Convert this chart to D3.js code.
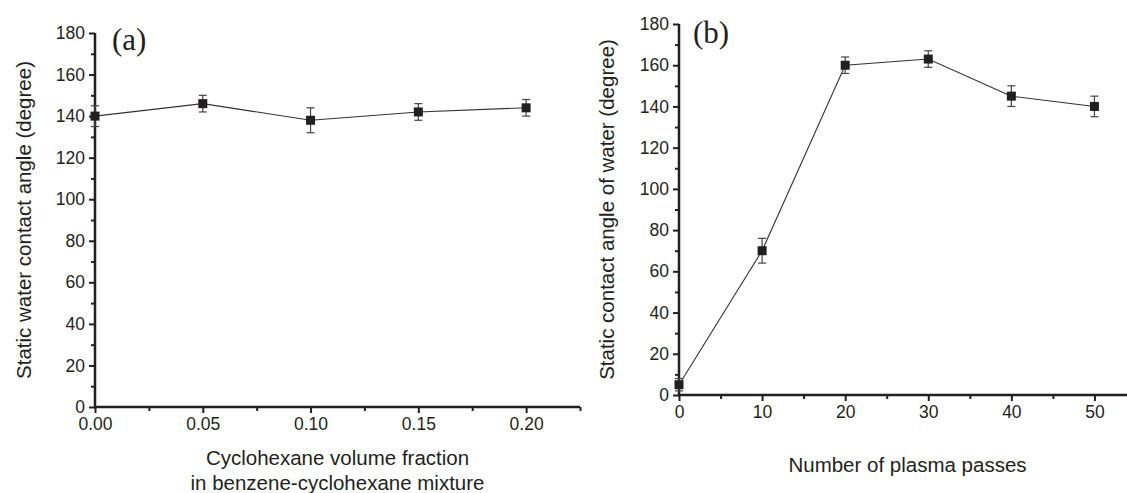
<!DOCTYPE html>
<html>
<head>
<meta charset="utf-8">
<script src="https://cdn.jsdelivr.net/npm/d3@7"></script>
<style>
  body { margin: 0; background: #fff; }
  svg { display: block; }
  text { fill: #231f20; }
</style>
</head>
<body>
<div id="chart"></div>
<script>
// panel (a): cyclohexane fraction
const fractionX = [0, 0.05, 0.1, 0.15, 0.2]
const waterAngle = [140, 146, 138, 142, 144]
const waterAngleErr = [5, 4, 6, 4, 4]
const fractionTicks = [0, 0.05, 0.1, 0.15, 0.2]
const fractionMinor = [0.025, 0.075, 0.125, 0.175, 0.225]

// panel (b): plasma passes
const passesX = [0, 10, 20, 30, 40, 50]
const passAngle = [5, 70, 160, 163, 145, 140]
const passAngleErr = [3, 6, 4, 4, 5, 5]
const passTicks = [0, 10, 20, 30, 40, 50]
const passMinor = [5, 15, 25, 35, 45, 55]

const angleTicks = [0, 20, 40, 60, 80, 100, 120, 140, 160, 180]
const angleMinor = [10, 30, 50, 70, 90, 110, 130, 150, 170]

let width = 1127
let height = 493

let svg = d3
  .select('#chart')
  .append('svg')
  .attr('width', width)
  .attr('height', height)
  .style('font-family', "'Liberation Sans', Arial, sans-serif")

let ink = '#231f20'

function drawPanel(p) {
  let x = d3.scaleLinear().domain(p.xDomain).range([p.left, p.right])
  let y = d3.scaleLinear().domain([0, 180]).range([p.bottom, p.top])

  let g = svg.append('g')

  // minor ticks
  g.append('g')
    .attr('transform', `translate(0, ${p.bottom})`)
    .call(d3.axisBottom(x).tickValues(p.xMinor).tickSize(4).tickFormat(''))
  g.append('g')
    .attr('transform', `translate(${p.left}, 0)`)
    .call(d3.axisLeft(y).tickValues(angleMinor).tickSize(4).tickFormat(''))

  // major ticks
  g.append('g')
    .attr('transform', `translate(0, ${p.bottom})`)
    .call(d3.axisBottom(x).tickValues(p.xTicks).tickSize(6).tickPadding(5).tickFormat(p.xFormat))
  g.append('g')
    .attr('transform', `translate(${p.left}, 0)`)
    .call(d3.axisLeft(y).tickValues(angleTicks).tickSize(6).tickPadding(4))

  g.selectAll('.domain').remove()
  g.selectAll('.tick line').attr('stroke', ink).attr('stroke-width', 2)
  g.selectAll('.tick text')
    .style('font-size', '17.5px')
    .style('font-family', "'Liberation Sans', Arial, sans-serif")
    .attr('fill', ink)

  // axis lines
  g.append('line')
    .attr('x1', p.left - 1)
    .attr('x2', x(p.xDomain[1]))
    .attr('y1', p.bottom)
    .attr('y2', p.bottom)
    .attr('stroke', ink)
    .attr('stroke-width', 2.5)
  g.append('line')
    .attr('x1', p.left)
    .attr('x2', p.left)
    .attr('y1', p.bottom + 1)
    .attr('y2', y(180))
    .attr('stroke', ink)
    .attr('stroke-width', 2.5)

  let pts = p.xs.map((d, i) => ({ x: d, y: p.ys[i], e: p.errs[i] }))

  // connecting line
  g.append('path')
    .datum(pts)
    .attr('d', d3.line().x(d => x(d.x)).y(d => y(d.y)))
    .attr('fill', 'none')
    .attr('stroke', '#333')
    .attr('stroke-width', 1.1)

  // error bars
  let eb = g.selectAll('.err').data(pts).enter().append('g').attr('class', 'err')
  eb.append('line')
    .attr('x1', d => x(d.x))
    .attr('x2', d => x(d.x))
    .attr('y1', d => y(d.y - d.e))
    .attr('y2', d => y(d.y + d.e))
    .attr('stroke', '#444')
    .attr('stroke-width', 1.2)
  eb.selectAll('.cap')
    .data(d => [d.y - d.e, d.y + d.e].map(v => ({ x: d.x, v: v })))
    .enter()
    .append('line')
    .attr('x1', d => x(d.x) - 4)
    .attr('x2', d => x(d.x) + 4)
    .attr('y1', d => y(d.v))
    .attr('y2', d => y(d.v))
    .attr('stroke', '#444')
    .attr('stroke-width', 1.2)

  // markers
  g.selectAll('.pt')
    .data(pts)
    .enter()
    .append('rect')
    .attr('x', d => x(d.x) - 4.5)
    .attr('y', d => y(d.y) - 4.5)
    .attr('width', 9)
    .attr('height', 9)
    .attr('fill', ink)

  // panel letter
  g.append('text')
    .attr('x', p.left + p.letterDx)
    .attr('y', y(180) + p.letterDy)
    .style('font-family', "'Liberation Serif', 'Times New Roman', serif")
    .style('font-size', '31px')
    .text(p.letter)

  // y title
  g.append('text')
    .attr('transform', `translate(${p.yTitleX}, ${(p.top + p.bottom) / 2}) rotate(-90)`)
    .attr('text-anchor', 'middle')
    .attr('dominant-baseline', 'central')
    .style('font-size', '20.5px')
    .text(p.yTitle)

  // x title
  p.xTitle.forEach((t, i) => {
    g.append('text')
      .attr('x', (p.left + x(p.xDomain[1])) / 2)
      .attr('y', p.xTitleY + i * 25)
      .attr('text-anchor', 'middle')
      .style('font-size', '20.5px')
      .text(t)
  })
}

drawPanel({
  xs: fractionX,
  ys: waterAngle,
  errs: waterAngleErr,
  xDomain: [0, 0.225],
  xTicks: fractionTicks,
  xMinor: fractionMinor,
  xFormat: d3.format('.2f'),
  left: 95,
  right: 580,
  top: 33,
  bottom: 407,
  letter: '(a)',
  letterDx: 17,
  letterDy: 17,
  yTitle: 'Static water contact angle (degree)',
  yTitleX: 23,
  xTitle: ['Cyclohexane volume fraction', 'in benzene-cyclohexane mixture'],
  xTitleY: 465
})

drawPanel({
  xs: passesX,
  ys: passAngle,
  errs: passAngleErr,
  xDomain: [0, 55],
  xTicks: passTicks,
  xMinor: passMinor,
  xFormat: d3.format('d'),
  left: 679,
  right: 1136,
  top: 24,
  bottom: 395,
  letter: '(b)',
  letterDx: 14,
  letterDy: 19,
  yTitle: 'Static contact angle of water (degree)',
  yTitleX: 606,
  xTitle: ['Number of plasma passes'],
  xTitleY: 472
})
</script>
</body>
</html>
